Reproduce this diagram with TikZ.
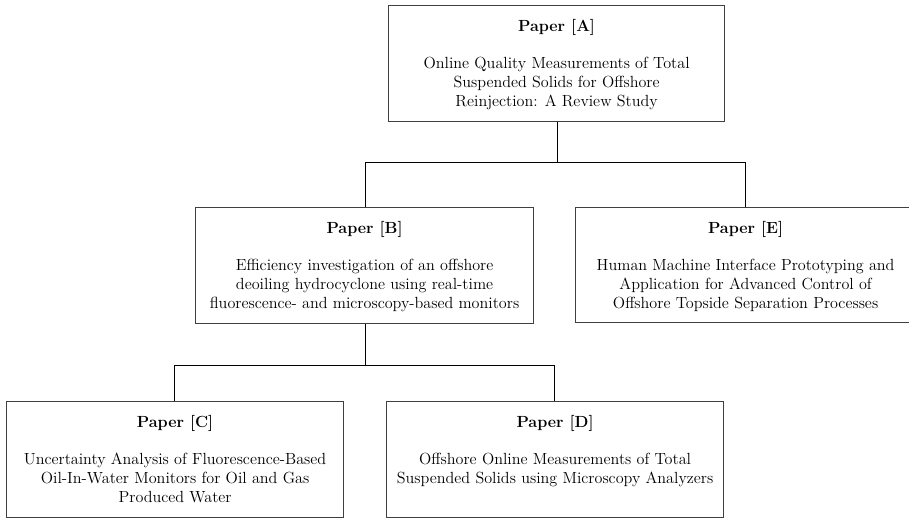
\documentclass[tikz,border=0pt]{standalone}
\newdimen\pxu \pxu=0.75pt
\tikzset{
  paperbox/.style={draw=black!75, line width=0.9pt, rectangle, inner sep=0pt, anchor=north west},
  conn/.style={draw=black, line width=0.7pt},
}
\newcommand{\paperbody}[4]{% width, height, title, body
  \parbox[c][#2\pxu][t]{#1\pxu}{\centering\fontsize{12.1}{14.3}\selectfont
    \vspace{14\pxu}\textbf{#3}\\[13.2pt]#4}}
\begin{document}
\begin{tikzpicture}[x=0.75pt,y=-0.75pt]
\useasboundingbox (0,0) rectangle (909,519);
\node[paperbox] (A) at (388,5) {\paperbody{336}{116}{Paper [A]}{Online Quality Measurements of Total\\Suspended Solids for Offshore\\Reinjection: A Review Study}};
\node[paperbox] (B) at (195,207) {\paperbody{338}{116}{Paper [B]}{Efficiency investigation of an offshore\\deoiling hydrocyclone using real-time\\fluorescence- and microscopy-based monitors}};
\node[paperbox] (E) at (575,207) {\paperbody{340}{115}{Paper [E]}{Human Machine Interface Prototyping and\\Application for Advanced Control of\\Offshore Topside Separation Processes}};
\node[paperbox] (C) at (6,401) {\paperbody{337}{116}{Paper [C]}{Uncertainty Analysis of Fluorescence-Based\\Oil-In-Water Monitors for Oil and Gas\\Produced Water}};
\node[paperbox] (D) at (386,401) {\paperbody{337}{116}{Paper [D]}{Offshore Online Measurements of Total\\Suspended Solids using Microscopy Analyzers}};
\coordinate (jA) at (557,162);
\coordinate (jB) at (365,162);
\coordinate (jE) at (745,162);
\coordinate (kB) at (365,365);
\coordinate (kC) at (174,365);
\coordinate (kD) at (554,365);
\draw[conn] (A.south -| jA) -- (jA);
\draw[conn] (jB) -- (jE);
\draw[conn] (jB) -- (jB |- B.north);
\draw[conn] (jE) -- (jE |- E.north);
\draw[conn] (B.south -| kB) -- (kB);
\draw[conn] (kC) -- (kD);
\draw[conn] (kC) -- (kC |- C.north);
\draw[conn] (kD) -- (kD |- D.north);
\end{tikzpicture}
\end{document}
